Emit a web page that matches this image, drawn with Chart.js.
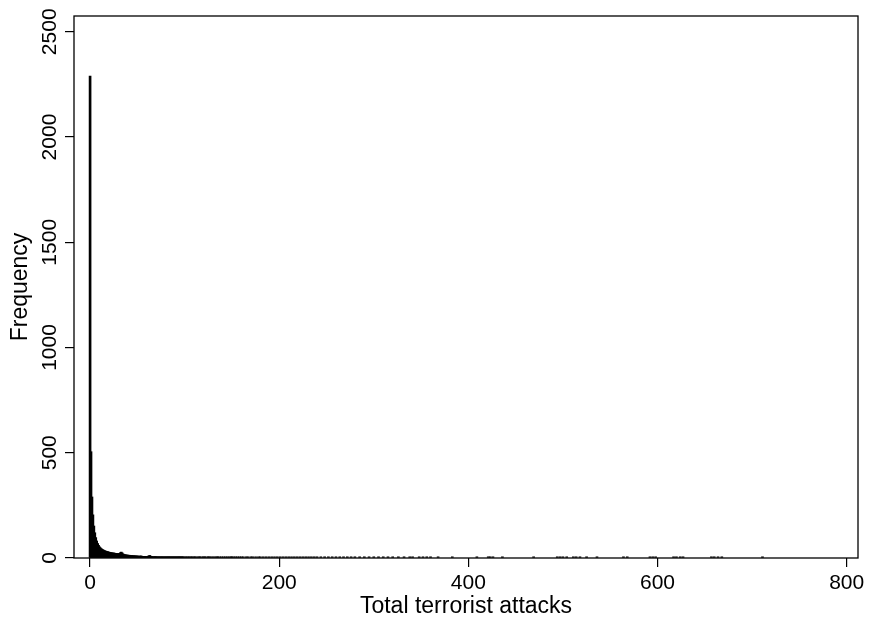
<!DOCTYPE html>
<html>
<head>
<meta charset="utf-8">
<script src="https://cdn.jsdelivr.net/npm/chart.js@4.4.1/dist/chart.umd.min.js"></script>
<style>
  body { margin: 0; background: #fff; }
  canvas { display: block; }
</style>
</head>
<body>
<canvas id="hist-chart" width="871" height="622"></canvas>
<script>
// frequency for 0..99 attacks (one bin per value)
let freqLow = [
    2290, 505, 290, 205, 152, 120, 97, 81, 69, 60,
    53, 48, 44, 41, 38, 36, 34, 32, 31, 30,
    28, 27, 26, 25, 24, 24, 23, 22, 22, 21,
    20, 22, 25, 28, 24, 19, 17, 16, 15, 14,
    14, 13, 13, 12, 12, 11, 11, 11, 10, 10,
    10, 9, 9, 9, 10, 8, 8, 8, 8, 7,
    7, 8, 10, 12, 9, 7, 7, 6, 6, 7,
    6, 6, 5, 6, 5, 5, 6, 5, 5, 4,
    5, 4, 5, 6, 4, 4, 5, 4, 4, 3,
    4, 4, 3, 5, 6, 4, 3, 4, 3, 3
];

// sparse tail, 100 and up
let tailValues = [
    101, 102, 104, 105, 107, 108, 110, 111, 113, 115, 116, 118, 120, 121, 123, 125, 126, 128, 130, 132,
    134, 135, 137, 139, 141, 143, 145, 147, 149,
    150, 152, 154, 156, 158, 160, 162, 165, 167, 170, 172, 175, 178, 180, 183, 186, 189, 192, 195, 198,
    201, 204, 207, 210, 213, 216, 219, 222, 225, 228, 231, 234, 237, 240, 244, 248, 252, 256, 260, 264,
    268, 272, 276, 280, 285, 290, 295, 300, 305, 310, 315, 320, 326, 332, 338,
    341, 348, 352, 356, 360, 368, 383, 409, 421, 423, 426, 436, 469, 494, 497, 500, 504, 511, 514, 518,
    525, 536, 564, 568, 592, 595, 598, 617, 620, 624, 627, 657, 660, 664, 668, 711
];
let tailCounts = [
    4, 3, 4, 3, 3, 4, 3, 3, 5, 3, 3, 4, 3, 2, 3, 3, 4, 2, 3, 3,
    2, 3, 2, 3, 2, 2, 3, 2, 2,
    3, 2, 2, 3, 2, 2, 2, 2, 2, 3, 2, 2, 2, 2, 2, 2, 2, 2, 2, 2,
    2, 2, 2, 1, 2, 2, 1, 2, 1, 2, 2, 1, 2, 1, 1, 2, 1, 1, 2, 1,
    1, 2, 1, 1, 1, 2, 1, 1, 1, 1, 2, 1, 1, 1, 1,
    1, 1, 1, 1, 1, 1, 1, 1, 1, 1, 1, 1, 1, 1, 1, 1, 1, 1, 1, 1,
    1, 1, 1, 1, 1, 1, 1, 1, 1, 1, 1, 1, 1, 1, 1, 1
];

let xTicks = [0, 200, 400, 600, 800];
let yTicks = [0, 500, 1000, 1500, 2000, 2500];

let histData = [];
freqLow.forEach((f, i) => histData.push({ x: i, y: f }));
tailValues.forEach((v, i) => histData.push({ x: v, y: tailCounts[i] }));

let fontFam = "'Liberation Sans', Arial, Helvetica, sans-serif";

// box round the plot region + rotated y tick labels
let framePlugin = {
    id: 'frame',
    afterDraw(chart) {
        let ctx = chart.ctx;
        let a = chart.chartArea;
        ctx.save();
        ctx.strokeStyle = '#000';
        ctx.lineWidth = 1.3;
        ctx.strokeRect(a.left, a.top, a.right - a.left, a.bottom - a.top);

        let yScale = chart.scales.y;
        ctx.fillStyle = '#000';
        ctx.font = '21px ' + fontFam;
        ctx.textAlign = 'center';
        ctx.textBaseline = 'alphabetic';
        yTicks.forEach(v => {
            let py = yScale.getPixelForValue(v);
            ctx.save();
            ctx.translate(56, py);
            ctx.rotate(-Math.PI / 2);
            ctx.fillText(String(v), 0, 0);
            ctx.restore();
        });
        ctx.restore();
    }
};

let histEl = document.getElementById('hist-chart');

let histConfig = {
    type: 'bar',
    data: {
        datasets: [
            {
                data: histData,
                backgroundColor: '#000',
                borderWidth: 0,
                barThickness: 2,
                minBarLength: 1.2,
            }
        ]
    },
    options: {
        responsive: false,
        animation: false,
        layout: {
            padding: { top: 16, right: 13, left: 0, bottom: 0 }
        },
        plugins: {
            legend: { display: false },
            tooltip: { enabled: false }
        },
        scales: {
            x: {
                type: 'linear',
                offset: false,
                min: -17,
                max: 812,
                afterBuildTicks: scale => {
                    scale.ticks = xTicks.map(v => ({ value: v }));
                },
                afterFit: scale => {
                    scale.height = 64;
                },
                ticks: {
                    color: '#000',
                    padding: 4,
                    maxRotation: 0,
                    font: { family: fontFam, size: 21 }
                },
                grid: {
                    offset: false,
                    drawOnChartArea: false,
                    tickLength: 9,
                    color: '#000',
                    lineWidth: 1.2
                },
                border: { display: false },
                title: {
                    display: true,
                    text: 'Total terrorist attacks',
                    color: '#000',
                    padding: { top: 0, bottom: 2 },
                    font: { family: fontFam, size: 23 }
                }
            },
            y: {
                min: 0,
                max: 2575,
                afterBuildTicks: scale => {
                    scale.ticks = yTicks.map(v => ({ value: v }));
                },
                afterFit: scale => {
                    scale.width = 74;
                },
                ticks: { display: false },
                grid: {
                    drawOnChartArea: false,
                    tickLength: 9,
                    color: '#000',
                    lineWidth: 1.2
                },
                border: { display: false },
                title: {
                    display: true,
                    text: 'Frequency',
                    color: '#000',
                    padding: { top: 7, bottom: 0 },
                    font: { family: fontFam, size: 23 }
                }
            }
        }
    },
    plugins: [framePlugin]
};

let histChart = new Chart(histEl, histConfig);
</script>
</body>
</html>
